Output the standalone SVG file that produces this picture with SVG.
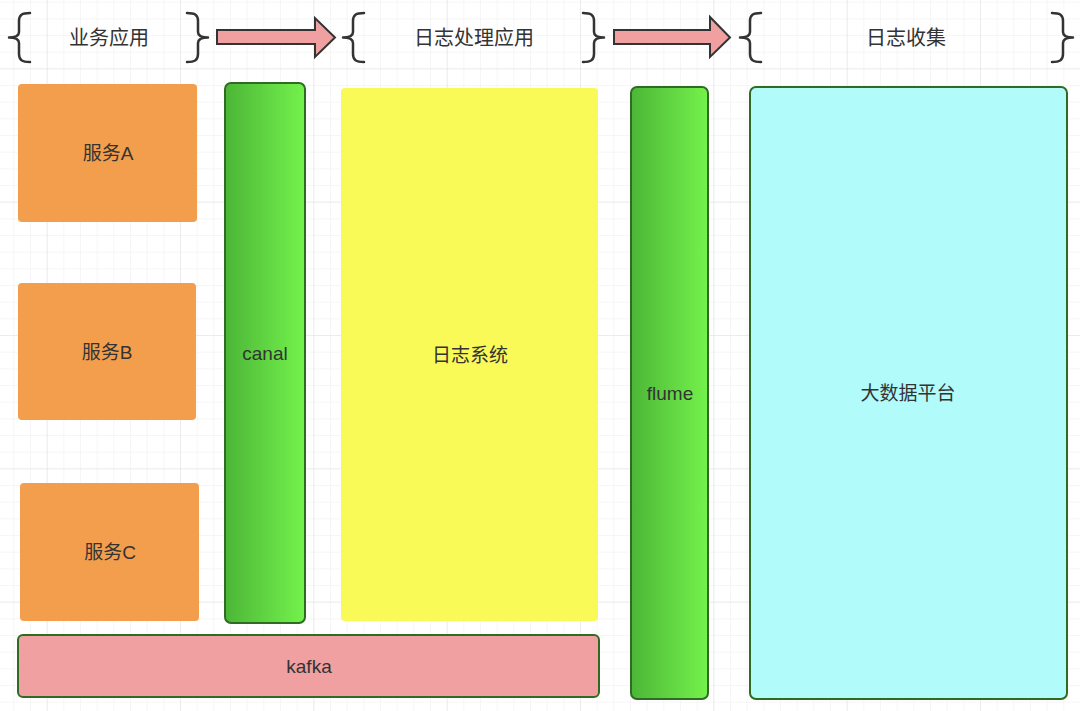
<svg xmlns="http://www.w3.org/2000/svg" xmlns:xlink="http://www.w3.org/1999/xlink" width="1080" height="711" viewBox="0 0 1080 711">
<style>
.t{font-family:"Liberation Sans","Noto Sans CJK SC",sans-serif;fill:#333;text-anchor:middle;dominant-baseline:central}
.h{font-size:20px}
.l{font-size:19px}
.brace{fill:none;stroke:#333;stroke-width:2.5;stroke-linecap:round;stroke-linejoin:round}
.arrow{fill:#f0a0a0;stroke:#333;stroke-width:2;stroke-linejoin:miter}
.svc{fill:#f29e4c}
.pipe{fill:url(#g);stroke:#2f6b23;stroke-width:2}
</style>
<defs>
<pattern id="minor" patternUnits="userSpaceOnUse" x="13.33" y="1.67" width="16.667" height="16.667">
<path d="M0,0H16.667M0,0V16.667" fill="none" stroke="#ededed" stroke-width="1"/>
</pattern>
<pattern id="major" patternUnits="userSpaceOnUse" x="46.67" y="68.33" width="133.333" height="133.333">
<path d="M0,0H133.333M0,0V133.333" fill="none" stroke="#e2e2e2" stroke-width="1"/>
</pattern>
<linearGradient id="g" x1="0" y1="0" x2="1" y2="0">
<stop offset="0" stop-color="#4cb637"/>
<stop offset="1" stop-color="#74f24c"/>
</linearGradient>
<path id="br" class="brace" d="M21,0 C13,0 10,2 10,8 L10,19 C10,23 7,24.5 0,24.5 C7,24.5 10,26 10,30 L10,41 C10,47 13,49 21,49"/>
</defs>
<rect width="1080" height="711" fill="#fff"/>
<rect width="1080" height="711" fill="url(#minor)"/>
<rect width="1080" height="711" fill="url(#major)"/>

<g id="header-business">
<use xlink:href="#br" href="#br" transform="translate(9,13)"/>
<text class="t h" x="109" y="38">业务应用</text>
<use xlink:href="#br" href="#br" transform="translate(208,13) scale(-1,1)"/>
</g>
<g id="header-logproc">
<use xlink:href="#br" href="#br" transform="translate(343,13)"/>
<text class="t h" x="474" y="38">日志处理应用</text>
<use xlink:href="#br" href="#br" transform="translate(604,13) scale(-1,1)"/>
</g>
<g id="header-collect">
<use xlink:href="#br" href="#br" transform="translate(740,13)"/>
<text class="t h" x="906" y="38">日志收集</text>
<use xlink:href="#br" href="#br" transform="translate(1073,13) scale(-1,1)"/>
</g>

<g id="connectors">
<polygon class="arrow" points="217,30 315,30 315,18 335,37.5 315,57 315,44 217,44"/>
<polygon class="arrow" points="614,30 710,30 710,17 730,37.5 710,57 710,44 614,44"/>
</g>

<g id="svcA">
<rect class="svc" x="18" y="84" width="179" height="138" rx="4"/>
<text class="t l" x="108" y="153">服务A</text>
</g>
<g id="svcB">
<rect class="svc" x="18" y="283" width="178" height="137" rx="4"/>
<text class="t l" x="107" y="352">服务B</text>
</g>
<g id="svcC">
<rect class="svc" x="20" y="483" width="179" height="138" rx="4"/>
<text class="t l" x="110" y="552">服务C</text>
</g>
<g id="canal">
<rect class="pipe" x="225" y="83" width="80" height="540" rx="6"/>
<text class="t l" x="265" y="353">canal</text>
</g>
<g id="logsys">
<rect x="341" y="88" width="257" height="533" rx="4" fill="#f9f957"/>
<text class="t l" x="470" y="355">日志系统</text>
</g>
<g id="flume">
<rect class="pipe" x="631" y="87" width="77" height="612" rx="6"/>
<text class="t l" x="670" y="393">flume</text>
</g>
<g id="bigdata">
<rect x="750" y="87" width="317" height="612" rx="6" fill="#b1fbfb" stroke="#2f6b23" stroke-width="2"/>
<text class="t l" x="908" y="393">大数据平台</text>
</g>
<g id="kafka">
<rect x="18" y="635" width="581" height="62" rx="5" fill="#f0a0a0" stroke="#2f6b23" stroke-width="2"/>
<text class="t l" x="309" y="666">kafka</text>
</g>
</svg>
